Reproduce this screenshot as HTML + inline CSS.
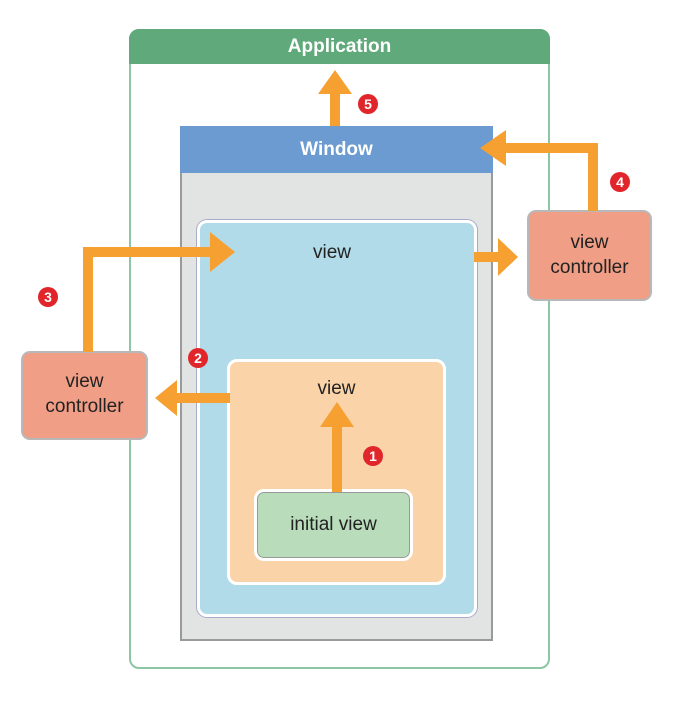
<!DOCTYPE html>
<html><head><style>
body{margin:0;width:698px;height:714px;background:#fff;position:relative;overflow:hidden;font-family:"Liberation Sans",Arial,sans-serif;}
.a{position:absolute;box-sizing:border-box;}
.t{position:absolute;text-align:center;color:#222;font-size:19px;}
</style></head><body>
<div class="a" style="left:129px;top:29px;width:421px;height:640px;border:2px solid #8cc6a2;border-radius:10px;"></div>
<div class="a" style="left:129px;top:29px;width:421px;height:35px;background:#5fa97a;border-radius:10px 10px 0 0;color:#fff;font-weight:bold;font-size:19px;text-align:center;line-height:36px;">Application</div>
<div class="a" style="left:180px;top:126px;width:313px;height:515px;background:#e2e3e3;border:2px solid #9a9a9a;"></div>
<div class="a" style="left:180px;top:126px;width:313px;height:47px;background:#6b9bd1;color:#fff;font-weight:bold;font-size:19px;text-align:center;line-height:47px;">Window</div>
<div class="a" style="left:197px;top:220px;width:280px;height:397px;background:#b1dbe9;border:3px solid #fff;border-radius:10px;box-shadow:0 0 0 1px #aac;"></div>
<div class="t" style="left:197px;top:242px;width:270px;">view</div>
<div class="a" style="left:227px;top:359px;width:219px;height:226px;background:#fbd3a8;border:3px solid #fff;border-radius:10px;"></div>
<div class="t" style="left:227px;top:378px;width:219px;">view</div>
<div class="a" style="left:254px;top:489px;width:159px;height:72px;background:#b9dcbb;border:3px solid #fff;border-radius:10px;box-shadow:0 0 0 1px #999 inset;"></div>
<div class="t" style="left:254px;top:514px;width:159px;">initial view</div>
<div class="a" style="left:527px;top:210px;width:125px;height:91px;background:#f09e86;border:2px solid #b8b8b8;border-radius:9px;"></div>
<div class="t" style="left:527px;top:230px;width:125px;line-height:25px;">view<br>controller</div>
<div class="a" style="left:21px;top:351px;width:127px;height:89px;background:#f09e86;border:2px solid #b8b8b8;border-radius:9px;"></div>
<div class="t" style="left:21px;top:369px;width:127px;line-height:25px;">view<br>controller</div>
<svg class="a" style="left:0;top:0" width="698" height="714">
<g fill="none" stroke="#f5a031" stroke-width="10">
<path d="M335 126V92"/>
<path d="M593 211V148H505"/>
<path d="M474 257H500"/>
<path d="M88 352V252H212"/>
<path d="M230 398H175"/>
<path d="M337 492V425"/>
</g>
<g fill="#f5a031">
<path d="M318 94L335 70L352 94Z"/>
<path d="M506 130L480 148L506 166Z"/>
<path d="M498 238L518 257L498 276Z"/>
<path d="M210 232L235 252L210 272Z"/>
<path d="M177 380L155 398L177 416Z"/>
<path d="M320 427L337 402L354 427Z"/>
</g>
<g fill="#e0262a">
<circle cx="373" cy="456" r="10"/><circle cx="198" cy="358" r="10"/><circle cx="48" cy="297" r="10"/><circle cx="620" cy="182" r="10"/><circle cx="368" cy="104" r="10"/>
</g>
<g fill="#fff" font-family="Liberation Sans" font-weight="bold" font-size="14" text-anchor="middle">
<text x="373" y="461">1</text><text x="198" y="363">2</text><text x="48" y="302">3</text><text x="620" y="187">4</text><text x="368" y="109">5</text>
</g>
</svg>
</body></html>
